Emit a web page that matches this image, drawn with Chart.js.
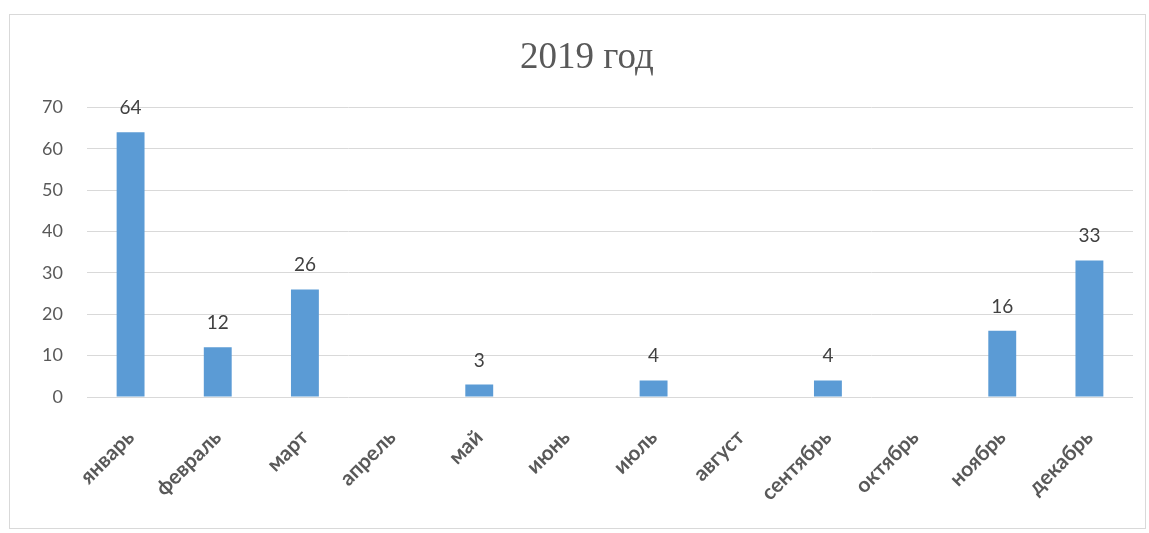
<!DOCTYPE html>
<html>
<head>
<meta charset="utf-8">
<script src="https://cdn.jsdelivr.net/npm/chart.js@4"></script>
<style>
  html, body { margin: 0; padding: 0; background: #fff; }
  #wrap { position: relative; width: 1149px; height: 533px; }
  #frame { position: absolute; left: 9px; top: 14px; width: 1137px; height: 515px; border: 1px solid #d9d9d9; box-sizing: border-box; pointer-events: none; }
  canvas { position: absolute; left: 0; top: 0; }
</style>
</head>
<body>
<div id="wrap">
  <canvas id="chart" width="1149" height="533"></canvas>
  <div id="frame"></div>
</div>
<script>
const months = ["январь","февраль","март","апрель","май","июнь","июль","август","сентябрь","октябрь","ноябрь","декабрь"];
const counts = [64, 12, 26, 0, 3, 0, 4, 0, 4, 0, 16, 33];
const yTicks = [0, 10, 20, 30, 40, 50, 60, 70];

// value labels above each non-empty bar
const barValues = {
  id: "barValues",
  afterDatasetsDraw(chart) {
    const ctx = chart.ctx;
    const meta = chart.getDatasetMeta(0);
    ctx.save();
    ctx.font = "19px Lato";
    ctx.fillStyle = "#404040";
    ctx.textAlign = "center";
    ctx.textBaseline = "alphabetic";
    meta.data.forEach((bar, i) => {
      if (!counts[i]) return;
      ctx.fillText(counts[i], bar.x, bar.y - 18);
    });
    ctx.restore();
  }
};

const chart = new Chart(document.getElementById("chart"), {
  type: "bar",
  data: {
    labels: months,
    datasets: [{
      data: counts,
      backgroundColor: "#5b9bd5",
      barPercentage: 0.32,
      categoryPercentage: 1
    }]
  },
  options: {
    responsive: false,
    animation: false,
    layout: { padding: { left: 41, right: 16, top: 0, bottom: 0 } },
    plugins: {
      legend: { display: false },
      tooltip: { enabled: false },
      title: {
        display: true,
        text: "2019 год",
        color: "#595959",
        font: { family: "Liberation Serif", size: 37, weight: "normal" },
        padding: { top: 36, bottom: 27 }
      }
    },
    scales: {
      x: {
        grid: { display: false, drawTicks: false },
        border: { display: false },
        ticks: {
          color: "#595959",
          font: { family: "Lato", size: 21, weight: "bold" },
          minRotation: 45,
          maxRotation: 45,
          padding: 28
        },
        afterFit: s => { s.height = 136; }
      },
      y: {
        min: 0,
        max: 70,
        afterBuildTicks: s => { s.ticks = yTicks.map(v => ({ value: v })); },
        grid: { color: "#d9d9d9", drawTicks: false },
        border: { display: false },
        ticks: {
          color: "#595959",
          font: { family: "Lato", size: 18 },
          padding: 24
        },
        afterFit: s => { s.width = 46; }
      }
    }
  },
  plugins: [barValues]
});
</script>
</body>
</html>
